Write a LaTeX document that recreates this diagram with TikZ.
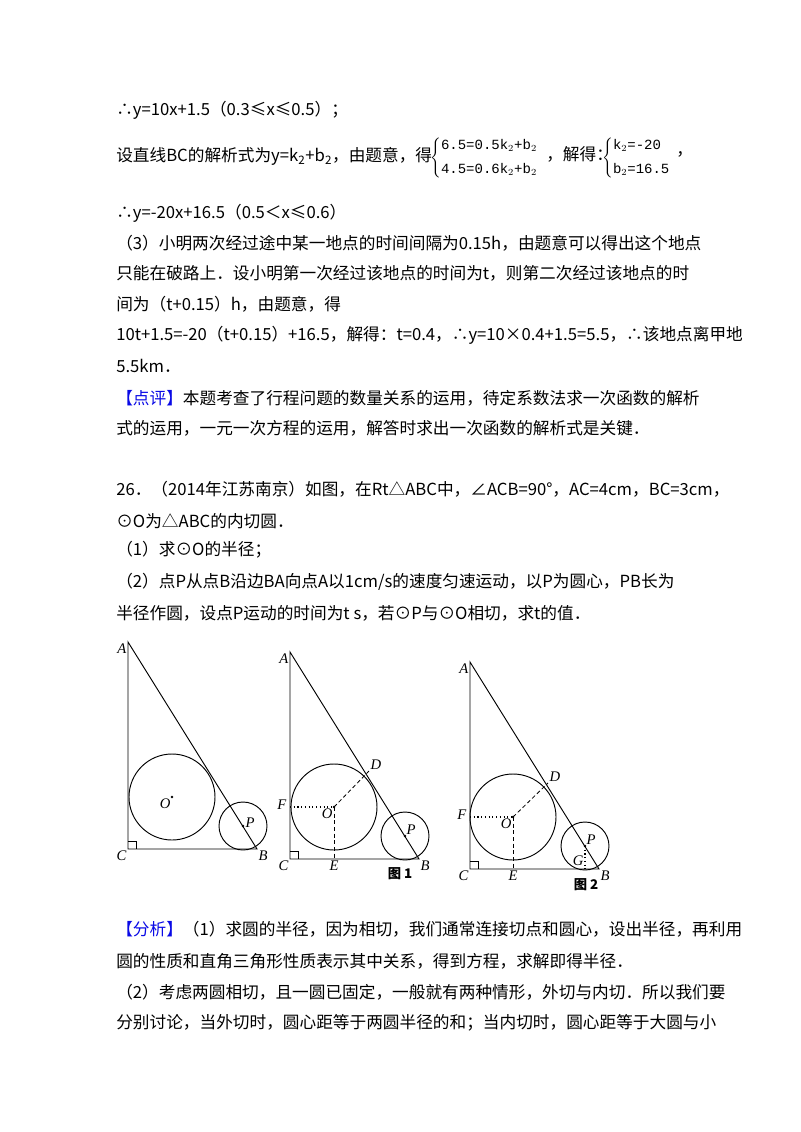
\documentclass[tikz,border=0pt]{standalone}
\usepackage{fontspec}
\setmainfont{Liberation Serif}
\newfontfamily\cjk{Noto Sans CJK SC}
\newfontfamily\mono{Liberation Mono}
\usetikzlibrary{calc}
\definecolor{hd}{RGB}{10,10,230}
\begin{document}
\begin{tikzpicture}[x=0.75pt,y=-0.75pt,
  ln/.style={anchor=west,inner sep=0pt,font=\cjk\fontsize{12.5}{14}\selectfont},
  geo/.style={line width=0.7pt},
  dot/.style={line width=0.8pt,dotted},
  dsh/.style={line width=0.6pt,dash pattern=on 3pt off 2pt},
  lab/.style={font=\itshape\fontsize{11}{12}\selectfont,inner sep=1pt}]
\useasboundingbox[fill=white] (0,0) rectangle (800,1132);
\node[ln] (l1) at (116,110) {∴y=10x+1.5（0.3≤x≤0.5）；};
\node[ln] (l2) at (116,156) {设直线BC的解析式为y=k\textsubscript{2}+b\textsubscript{2}，由题意，得};
\node[anchor=west,inner sep=0pt,font=\mono\fontsize{10.5}{12}\selectfont] (e1) at (430,158) {$\left\{\begin{array}{@{}l@{}}\hbox{6.5=0.5k$_2$+b$_2$}\\[6pt]\hbox{4.5=0.6k$_2$+b$_2$}\end{array}\right.$};
\node[ln] (l2b) at (546,154) {，解得：};
\node[anchor=west,inner sep=0pt,font=\mono\fontsize{10.5}{12}\selectfont] (e2) at (602,158) {$\left\{\begin{array}{@{}l@{}}\hbox{k$_2$=-20}\\[6pt]\hbox{b$_2$=16.5}\end{array}\right.$};
\node[ln] (l2c) at (676,154) {，};
\node[ln] (l3) at (116,213) {∴y=-20x+16.5（0.5＜x≤0.6）};
\node[ln] (l4) at (116,243) {（3）小明两次经过途中某一地点的时间间隔为0.15h，由题意可以得出这个地点};
\node[ln] (l5) at (116,273) {只能在破路上．设小明第一次经过该地点的时间为t，则第二次经过该地点的时};
\node[ln] (l6) at (116,304) {间为（t+0.15）h，由题意，得};
\node[ln] (l7) at (116,335) {10t+1.5=-20（t+0.15）+16.5，解得：t=0.4，∴y=10×0.4+1.5=5.5，∴该地点离甲地};
\node[ln] (l8) at (116,366) {5.5km．};
\node[ln] (l9) at (116,398) {\textcolor{hd}{【点评】}本题考查了行程问题的数量关系的运用，待定系数法求一次函数的解析};
\node[ln] (l10) at (116,428) {式的运用，一元一次方程的运用，解答时求出一次函数的解析式是关键．};
\node[ln] (l11) at (116,489) {26．（2014年江苏南京）如图，在Rt△ABC中，∠ACB=90°，AC=4cm，BC=3cm，};
\node[ln] (l12) at (116,521) {⊙O为△ABC的内切圆．};
\node[ln] (l13) at (116,550) {（1）求⊙O的半径；};
\node[ln] (l14) at (116,582) {（2）点P从点B沿边BA向点A以1cm/s的速度匀速运动，以P为圆心，PB长为};
\node[ln] (l15) at (116,613) {半径作圆，设点P运动的时间为t s，若⊙P与⊙O相切，求t的值．};
\node[ln] (l16) at (116,929) {\textcolor{hd}{【分析】}（1）求圆的半径，因为相切，我们通常连接切点和圆心，设出半径，再利用};
\node[ln] (l17) at (116,961) {圆的性质和直角三角形性质表示其中关系，得到方程，求解即得半径．};
\node[ln] (l18) at (116,992) {（2）考虑两圆相切，且一圆已固定，一般就有两种情形，外切与内切．所以我们要};
\node[ln] (l19) at (116,1023) {分别讨论，当外切时，圆心距等于两圆半径的和；当内切时，圆心距等于大圆与小};
% figure 0
\coordinate (A0) at (128,642); \coordinate (C0) at (128,849); \coordinate (B0) at (257,849);
\coordinate (O0) at (172,797); \coordinate (P0) at (243,826);
\draw[geo] (A0)--(C0)--(B0)--cycle;
\draw[geo] ($(C0)+(0,-8)$) -- ++(8,0) -- ++(0,8);
\draw[geo] (O0) circle[radius=43];
\draw[geo] (P0) circle[radius=24];
\fill (O0) circle[radius=1.3]; \fill (P0) circle[radius=1.3];
\node[lab,anchor=north east] at (A0) {A};
\node[lab,anchor=north east] at (C0) {C};
\node[lab,anchor=north west] at (B0) {B};
\node[lab,anchor=north east] at (O0) {O};
\node[lab,anchor=west] at ($(P0)+(1,-3)$) {P};
% figure 1
\coordinate (A1) at (290,652); \coordinate (C1) at (290,859); \coordinate (B1) at (419,859);
\coordinate (O1) at (334,807); \coordinate (P1) at (405,836);
\coordinate (D1) at (369,771); \coordinate (F1) at (290,807); \coordinate (E1) at (334,859);
\draw[geo] (A1)--(C1)--(B1)--cycle;
\draw[geo] ($(C1)+(0,-8)$) -- ++(8,0) -- ++(0,8);
\draw[geo] (O1) circle[radius=43];
\draw[geo] (P1) circle[radius=24];
\draw[dot] (F1)--(O1); \draw[dsh] (O1)--(E1); \draw[dsh] (O1)--(D1);
\fill (O1) circle[radius=1.3]; \fill (P1) circle[radius=1.3];
\node[lab,anchor=north east] at (A1) {A};
\node[lab,anchor=north east] at (C1) {C};
\node[lab,anchor=north west] at (B1) {B};
\node[lab,anchor=north east] at (O1) {O};
\node[lab,anchor=south west] at (P1) {P};
\node[lab,anchor=south west] at (D1) {D};
\node[lab,anchor=east] at ($(F1)+(-2,-2)$) {F};
\node[lab,anchor=north] at (E1) {E};
\node[font=\cjk\bfseries\fontsize{10}{12}\selectfont] (c1) at (400,874) {图 1};
% figure 2
\coordinate (A2) at (470,662); \coordinate (C2) at (470,869); \coordinate (B2) at (599,869);
\coordinate (O2) at (513,817); \coordinate (P2) at (585,846);
\coordinate (D2) at (548,783); \coordinate (F2) at (470,817); \coordinate (E2) at (513,869);
\coordinate (G2) at (585,869);
\draw[geo] (A2)--(C2)--(B2)--cycle;
\draw[geo] ($(C2)+(0,-8)$) -- ++(8,0) -- ++(0,8);
\draw[geo] (O2) circle[radius=43];
\draw[geo] (P2) circle[radius=24];
\draw[dot] (F2)--(O2); \draw[dsh] (O2)--(E2); \draw[dsh] (O2)--(D2); \draw[dot] (P2)--(G2);
\fill (O2) circle[radius=1.3]; \fill (P2) circle[radius=1.3];
\node[lab,anchor=north east] at (A2) {A};
\node[lab,anchor=north east] at (C2) {C};
\node[lab,anchor=north west] at (B2) {B};
\node[lab,anchor=north east] at (O2) {O};
\node[lab,anchor=south west] at (P2) {P};
\node[lab,anchor=south west] at (D2) {D};
\node[lab,anchor=east] at ($(F2)+(-2,-2)$) {F};
\node[lab,anchor=north] at (E2) {E};
\node[lab,anchor=south east] at ($(G2)+(0,-2)$) {G};
\node[font=\cjk\bfseries\fontsize{10}{12}\selectfont] (c2) at (586,885) {图 2};
\end{tikzpicture}
\end{document}
